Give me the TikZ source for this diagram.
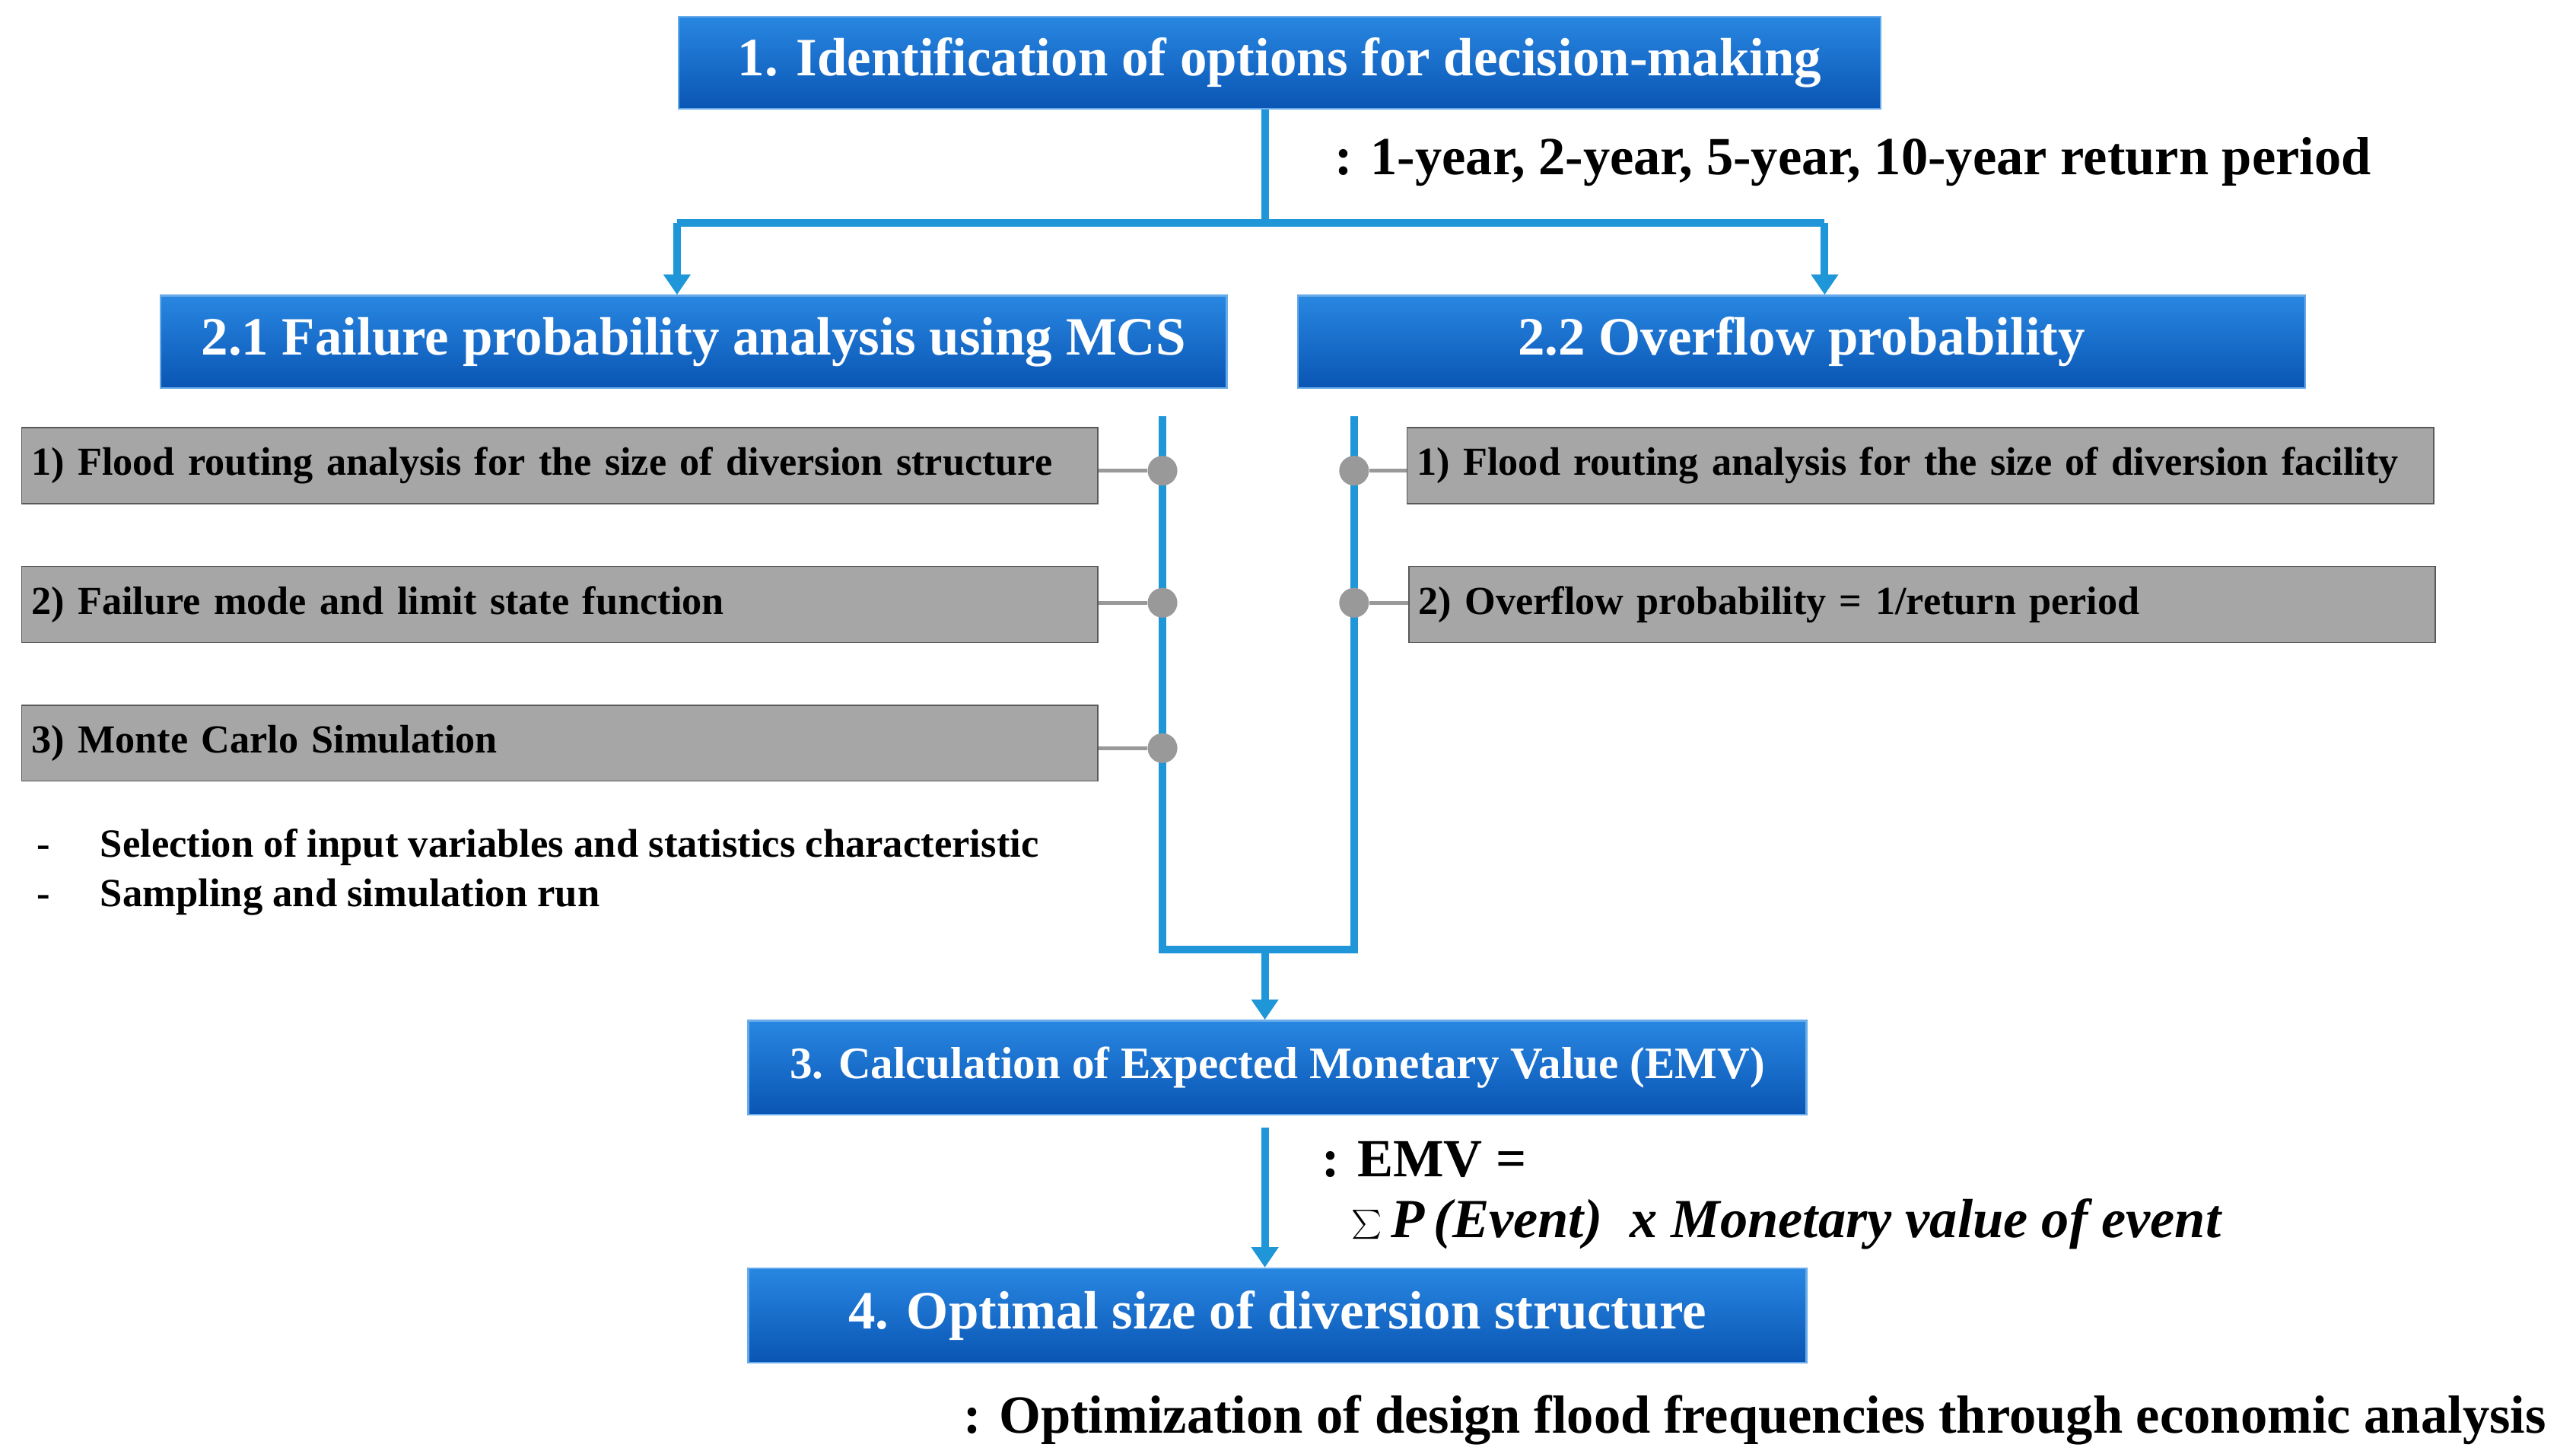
\documentclass[tikz,border=0pt]{standalone}
\usepackage{fontspec}
\setmainfont{Liberation Serif}
\usetikzlibrary{arrows.meta, positioning, calc}
\definecolor{linkblue}{RGB}{30,150,215}
\definecolor{boxtop}{RGB}{40,135,225}
\definecolor{boxbot}{RGB}{10,85,180}
\definecolor{stepgray}{RGB}{166,166,166}
\tikzset{
  mainbox/.style={
    rectangle, draw=boxtop!70!white, line width=0.6pt, top color=boxtop, bottom color=boxbot,
    minimum height=1.12cm, align=center, text=white, font=\fontsize{18.6}{22}\selectfont\bfseries
  },
  stepbox/.style={
    rectangle, draw=gray!70!black, fill=stepgray, minimum height=0.92cm,
    text width=#1, align=left, font=\fontsize{13.7}{16}\selectfont\bfseries
  },
  link/.style={linkblue, line width=2.6pt},
  flow/.style={link, -{Triangle[width=9pt, length=7pt]}},
  tap/.style={gray!80, line width=1.2pt},
  dot/.style={circle, fill=gray!80, inner sep=0pt, minimum size=0.36cm},
  note/.style={font=\fontsize{18.5}{21}\selectfont\bfseries, anchor=west, inner sep=0pt}
}

\begin{document}
\begin{tikzpicture}[x=0.02cm, y=-0.02cm]
    \useasboundingbox (0,0) rectangle (1560,880);
    
    % Decision options
    \node[mainbox, minimum width=14.56cm] (opt) at (775,38) {1. Identification of options for decision-making};
    \node[note] (optnote) at (808,98) {: 1-year, 2-year, 5-year, 10-year return period};
    \coordinate (split) at (766,135);
    \coordinate (splitL) at (410,135);
    \coordinate (splitR) at (1105,135);
    
    % Two analyses
    \node[mainbox, minimum width=12.92cm] (mcs) at (420,207) {2.1 Failure probability analysis using MCS};
    \node[mainbox, minimum width=12.2cm] (ovf) at (1091,207) {2.2 Overflow probability};
    \draw[link] (opt.south -| split) -- (split);
    \draw[link] (splitL) -- (splitR);
    \draw[flow] (splitL) -- (splitL |- mcs.north);
    \draw[flow] (splitR) -- (splitR |- ovf.north);
    
    % MCS steps
    \node[stepbox=12.8cm] (m1) at (339,282) {1) Flood routing analysis for the size of diversion structure};
    \node[stepbox=12.8cm] (m2) at (339,366) {2) Failure mode and limit state function};
    \node[stepbox=12.8cm] (m3) at (339,450) {3) Monte Carlo Simulation};
    \node[note, font=\fontsize{13.8}{16}\selectfont\bfseries] (b1) at (22,513) {-\hspace{1.25em}Selection of input variables and statistics characteristic};
    \node[note, font=\fontsize{13.8}{16}\selectfont\bfseries] (b2) at (22,543) {-\hspace{1.25em}Sampling and simulation run};
    
    % Overflow steps
    \node[stepbox=12.2cm] (o1) at (1163,282) {1) Flood routing analysis for the size of diversion facility};
    \node[stepbox=12.2cm] (o2) at (1164,366) {2) Overflow probability = 1/return period};
    
    % Collecting lines
    \coordinate (lt) at (704,252);
    \coordinate (lb) at (704,575);
    \coordinate (rt) at (820,252);
    \coordinate (rb) at (820,575);
    \coordinate (join) at (766,575);
    \draw[link] (lt) -- (lb) -- (rb) -- (rt);
    \foreach \s/\y in {m1/285, m2/365, m3/453} {
      \node[dot] (d\s) at (704,\y) {};
      \draw[tap] (\s.east |- d\s) -- (d\s);
    }
    \foreach \s/\y in {o1/285, o2/365} {
      \node[dot] (d\s) at (820,\y) {};
      \draw[tap] (d\s) -- (\s.west |- d\s);
    }
    
    % EMV and result
    \node[mainbox, minimum width=12.82cm, minimum height=1.14cm, font=\fontsize{15.5}{18}\selectfont\bfseries] (emv) at (773.5,646.5) {3. Calculation of Expected Monetary Value (EMV)};
    \draw[flow] (join) -- (join |- emv.north);
    \node[mainbox, minimum width=12.82cm, minimum height=1.14cm] (opt4) at (773.5,796.5) {4. Optimal size of diversion structure};
    \coordinate (e1) at (766,683);
    \draw[flow] (e1) -- (e1 |- opt4.north);
    \node[note] (emvA) at (800,702) {: EMV =};
    \node[note, font=\fontsize{19}{21}\selectfont\bfseries\itshape] (emvB) at (818,741) {$\sum$\,P\,(Event)\ \ x\ Monetary\ value\ of\ event};
    \node[note] (endnote) at (583,860) {: Optimization of design flood frequencies through economic analysis};
    
\end{tikzpicture}
\end{document}
